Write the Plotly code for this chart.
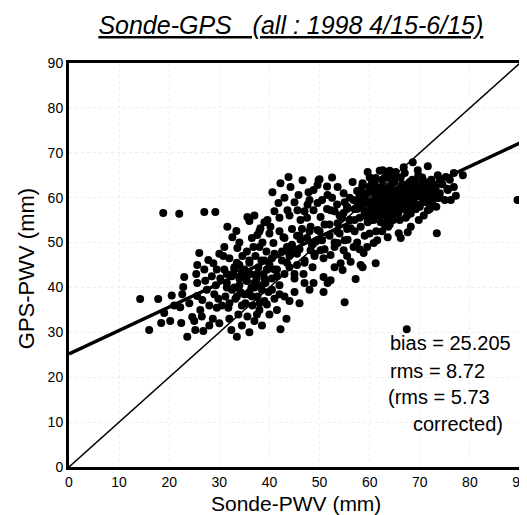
import plotly.graph_objects as go

# Sonde-PWV (x) vs GPS-PWV (y), mm
sonde = [
    14.2, 17.8, 16.0, 18.4, 19.0, 20.2, 21.0, 20.5, 22.4, 22.2, 22.6, 22.8, 23.0, 18.8, 22.0,
    23.6, 25.2, 26.8, 24.6, 25.0, 26.2, 26.6, 25.6, 25.6, 25.4, 26.0, 25.6, 27.8, 27.0, 29.2,
    27.5, 28.0, 28.5, 28.7, 29.0, 29.5, 29.3, 24.0, 27.0, 28.0, 29.5, 30.0, 27.2, 28.8, 26.5,
    30.0, 29.8, 30.2,
    30.8, 31.6, 32.6, 33.4, 33.6, 35.6, 36.0, 31.0, 31.5, 31.2, 31.8, 32.0, 32.4, 32.8, 33.0,
    33.2, 33.5, 33.8, 34.0, 34.2, 34.5, 34.6, 35.0, 35.2, 35.4, 35.6, 35.8, 36.0, 36.2, 36.4,
    36.6, 36.8, 37.0, 37.2, 37.4, 37.6, 37.8, 38.0, 38.2, 38.4, 38.6, 38.8, 39.0, 39.2, 39.4,
    39.6, 39.8, 40.0, 40.0, 31.0, 32.0, 34.0, 36.5, 38.0, 39.0, 37.0, 35.0, 36.0, 33.0, 34.5,
    32.5, 31.5, 30.5, 37.5, 39.5, 38.5, 36.0, 33.5, 35.5, 38.0, 39.0, 37.0, 34.0,
    43.8, 42.2, 46.6, 40.6, 44.2, 45.8, 47.8, 49.6, 41.8, 43.6, 39.6, 45.6, 47.6, 48.8, 46.2,
    48.2, 42.8, 40.8, 44.2, 46.2, 48.2, 37.6, 38.2, 40.2, 42.0, 44.5, 43.0, 45.0, 41.0, 44.0,
    45.5, 42.0, 50.5, 51.5, 52.5, 50.0,
    57.0, 57.5, 58.0, 58.2, 58.5, 59.0, 59.3, 59.6, 60.0, 60.2, 60.5, 60.8, 61.0, 61.3, 61.5,
    61.8, 62.0, 62.2, 62.5, 62.7, 63.0, 63.2, 63.5, 63.7, 64.0, 64.2, 64.5, 64.7, 65.0, 65.2,
    65.5, 65.7, 66.0, 66.2, 66.5, 66.7, 67.0, 67.2, 67.5, 67.7, 68.0, 68.2, 68.5, 68.7, 69.0,
    69.2, 69.5, 69.7, 70.0, 70.2, 70.5, 70.8, 71.0, 71.3, 71.5, 72.0, 72.3, 72.6, 73.0, 73.3,
    73.6, 74.0, 74.5, 75.0, 75.5, 76.0, 76.8, 77.2, 78.6, 75.2, 73.6, 73.2, 71.6, 69.6, 68.6,
    71.6, 69.8, 68.2, 67.6, 66.2, 65.8, 63.6, 60.8, 58.8, 61.2, 58.2, 57.2, 58.6, 56.2, 73.4,
    67.4, 89.5, 76.2, 75.6, 76.8,
    58.5, 59.5, 60.5, 61.5, 62.5, 63.5, 64.5, 65.5, 66.5, 67.5, 68.5, 69.5, 62.0, 64.0, 66.0,
    63.0, 61.0, 65.0, 67.0, 64.0, 62.0, 60.0, 59.6, 62.6, 63.6, 65.2, 66.8, 61.2, 58.6, 56.6,
    53.6, 49.8, 57.5, 56.0, 55.5, 57.0, 56.0, 55.0, 54.5, 55.5, 54.0, 53.0, 52.5, 53.5, 51.6,
    54.8, 56.8, 49.6, 52.2, 54.8, 50.2, 53.6, 56.2, 49.6, 51.0, 52.0, 53.0, 50.5, 55.6, 53.6,
    56.8, 54.8, 52.2, 50.8, 50.2, 48.6, 48.8, 50.8, 52.2, 50.8, 54.6, 54.2, 55.0, 51.6, 53.0,
    55.5, 57.5, 59.0, 58.0, 60.0, 59.5, 61.5, 62.5, 60.2, 57.0, 48.8, 48.0, 47.0, 46.5, 47.5,
    48.5, 49.0, 47.0, 46.0, 45.5, 46.8, 48.0, 47.0, 45.0, 44.0, 44.5, 43.5, 42.5, 43.0, 42.0,
    41.5, 41.0, 40.5, 42.2, 43.4, 44.0, 45.0, 43.0, 41.0, 41.5, 40.5, 46.0,
    59.0, 60.5, 62.0, 63.5, 65.0, 66.5, 68.0, 69.0, 70.5, 71.5, 72.5, 74.0, 64.0, 66.0, 61.0,
    63.0, 67.5, 69.5, 71.0, 60.0, 58.0, 62.5, 65.5, 68.5,
    58.0, 59.0, 60.0, 61.0, 62.0, 63.0, 64.0, 65.0, 66.0, 67.0, 68.0, 69.0, 70.0, 71.0, 72.0,
    59.5, 60.5, 61.5, 62.5, 63.5, 64.5, 65.5, 66.5, 67.5, 68.5, 69.5, 70.5, 57.5, 58.5, 60.2,
    61.8, 63.2, 64.8, 66.2, 67.8, 69.2, 62.0, 64.0, 66.0, 60.0, 65.0, 67.0, 70.0, 72.0, 74.0,
    31.5, 32.5, 33.5, 34.5, 35.5, 36.5, 37.5, 38.5, 39.5, 40.5, 41.5, 42.5, 43.5, 44.5, 45.5,
    32.0, 33.0, 34.0, 35.0, 36.0, 37.0, 38.0, 39.0, 40.0, 41.0, 42.0, 43.0, 44.0, 45.0, 46.0,
    47.0, 48.0, 49.0, 50.0, 51.0, 52.0, 53.0, 54.0, 55.0, 56.0, 47.5, 49.5, 51.5, 53.5, 55.5,
    60.5, 61.5, 62.5, 63.5, 64.5, 65.5, 66.5, 67.5, 61.0, 63.0, 65.0, 67.0, 69.0, 62.0, 64.0,
    59.0, 60.0, 61.0, 62.0, 63.0, 64.0, 65.0, 66.0, 67.0, 68.0, 69.0, 70.0, 71.0, 72.0, 73.0,
    60.5, 61.5, 62.5, 63.5, 64.5, 65.5, 66.5, 67.5, 68.5, 69.5, 70.5, 71.5, 64.0, 66.0, 68.0,
]
gps = [
    37.4, 37.4, 30.5, 32.1, 34.3, 32.5, 36.0, 38.2, 32.1, 35.6, 38.5, 40.1, 42.3, 56.6, 56.4,
    29.0, 30.5, 30.3, 33.4, 32.5, 35.0, 37.2, 38.1, 41.0, 43.0, 47.7, 45.0, 46.1, 56.8, 56.8,
    39.5, 36.0, 42.5, 33.0, 38.5, 44.0, 40.5, 36.5, 44.0, 31.5, 35.5, 47.5, 41.5, 45.4, 33.5,
    32.0, 37.5, 42.0,
    47.0, 53.5, 51.2, 52.6, 48.8, 55.7, 54.8, 44.0, 41.0, 38.0, 35.5, 33.0, 30.5, 43.0, 40.0,
    37.5, 45.5, 34.0, 42.0, 39.0, 31.5, 47.0, 44.0, 36.5, 41.5, 33.5, 38.5, 45.5, 43.0, 40.0,
    36.0, 49.0, 32.5, 47.0, 42.0, 38.0, 44.5, 35.0, 40.5, 46.0, 50.0, 43.0, 37.0, 41.0, 48.0,
    44.0, 39.0, 52.0, 34.0, 49.0, 46.5, 50.0, 51.0, 52.5, 54.5, 56.0, 42.5, 39.0, 44.0, 36.0,
    39.5, 43.0, 36.0, 34.0, 36.2, 31.5, 30.0, 29.0, 48.0, 49.0, 46.0, 40.0, 45.0,
    64.6, 63.2, 63.9, 61.2, 62.4, 60.6, 61.2, 62.8, 58.8, 57.2, 55.0, 57.2, 58.4, 57.2, 55.0,
    53.5, 51.2, 49.9, 49.0, 50.6, 48.3, 51.7, 53.2, 53.5, 55.5, 53.0, 60.0, 59.0, 57.0, 56.0,
    51.5, 52.5, 59.5, 62.5, 64.5, 64.1,
    55.0, 58.0, 60.5, 53.5, 62.5, 56.5, 59.0, 54.5, 61.5, 57.5, 63.5, 55.0, 59.5, 52.5, 62.0,
    57.0, 60.5, 54.5, 64.0, 58.5, 61.5, 56.0, 59.5, 53.5, 62.5, 57.5, 60.0, 55.0, 63.5, 58.5,
    61.0, 56.5, 59.5, 64.5, 57.5, 62.0, 60.5, 55.5, 63.0, 58.5, 61.0, 56.5, 64.0, 59.5, 62.0,
    57.5, 60.5, 65.0, 58.5, 62.5, 60.0, 56.0, 63.5, 59.0, 61.5, 57.5, 64.0, 60.5, 62.5, 58.0,
    65.0, 61.0, 63.0, 59.5, 62.0, 64.0, 62.4, 60.4, 65.0, 64.6, 59.9, 62.4, 67.0, 66.1, 67.9,
    57.2, 55.0, 53.5, 52.3, 51.0, 52.1, 51.2, 49.9, 47.7, 45.4, 45.0, 41.9, 44.5, 45.7, 52.1,
    30.7, 59.5, 59.5, 61.7, 65.5,
    58.0, 61.0, 59.0, 60.0, 62.5, 58.0, 63.0, 59.5, 61.0, 57.0, 60.5, 58.0, 56.0, 54.0, 55.0,
    64.5, 63.5, 65.0, 65.5, 66.0, 66.0, 64.5, 65.7, 66.1, 65.5, 65.7, 66.8, 64.4, 63.2, 63.5,
    62.4, 63.9, 61.5, 60.0, 57.5, 52.5, 55.0, 59.0, 55.5, 53.0, 52.0, 57.0, 60.0, 58.5, 60.6,
    61.0, 59.5, 58.8, 57.2, 56.6, 55.7, 54.3, 53.2, 52.8, 54.0, 51.5, 50.0, 50.5, 50.6, 49.9,
    49.0, 48.3, 47.2, 46.5, 48.3, 44.5, 41.0, 42.3, 41.6, 39.0, 43.9, 45.4, 36.7, 41.0, 44.5,
    47.0, 50.0, 51.5, 48.5, 52.0, 49.0, 50.5, 52.5, 55.0, 57.5, 61.7, 59.5, 57.0, 53.0, 51.0,
    49.5, 47.0, 46.0, 48.5, 45.0, 43.0, 39.5, 41.0, 42.0, 44.5, 47.5, 49.0, 46.0, 43.0, 40.5,
    44.0, 47.5, 42.0, 30.7, 33.0, 37.0, 39.0, 38.0, 37.5, 35.0, 39.5, 36.5,
    57.0, 58.0, 59.5, 60.5, 58.0, 63.0, 62.5, 63.5, 61.5, 60.0, 59.0, 60.0, 58.5, 60.5, 61.0,
    62.0, 59.0, 61.0, 60.5, 56.5, 55.5, 57.0, 61.5, 58.0,
    59.0, 57.0, 62.0, 56.0, 60.0, 57.5, 61.5, 58.0, 62.0, 59.5, 57.0, 60.5, 58.0, 62.5, 60.0,
    55.5, 63.0, 57.0, 59.5, 55.0, 61.0, 57.0, 60.0, 56.0, 59.0, 61.5, 64.0, 57.5, 61.0, 59.0,
    56.5, 57.5, 61.0, 58.5, 62.5, 57.5, 61.5, 64.5, 62.0, 58.5, 60.5, 58.5, 60.5, 62.0, 64.0,
    40.0, 42.5, 38.0, 43.5, 41.5, 38.0, 43.0, 39.5, 44.0, 46.5, 42.5, 48.0, 45.5, 49.5, 47.5,
    36.5, 44.5, 40.5, 38.5, 46.0, 41.0, 36.5, 42.0, 45.0, 44.0, 38.5, 51.0, 47.0, 43.0, 51.5,
    45.5, 52.5, 47.5, 52.5, 48.5, 54.0, 49.0, 56.0, 50.5, 55.0, 55.5, 50.5, 57.5, 52.5, 58.0,
    56.0, 59.0, 57.5, 60.5, 56.5, 59.5, 58.0, 61.5, 63.0, 54.0, 61.5, 59.5, 63.5, 58.0, 56.0,
    60.0, 62.5, 58.5, 61.0, 59.0, 62.0, 60.0, 58.5, 61.5, 63.5, 60.0, 62.5, 61.0, 63.0, 61.5,
    57.5, 59.0, 56.5, 60.0, 56.0, 58.0, 60.0, 62.0, 60.0, 62.0, 64.5, 63.0, 59.5, 61.5, 59.0,
]

# regression line stats
bias = 25.205
slope = 0.522
line_x = [0, 90]
stats_text = ["bias = 25.205", "rms = 8.72", "(rms = 5.73", "corrected)"]

fnt = "Liberation Sans, Arial, sans-serif"

fig = go.Figure()
fig.add_trace(go.Scatter(x=line_x, y=line_x, mode="lines",
                         line=dict(color="black", width=1.5), hoverinfo="skip"))
fig.add_trace(go.Scatter(x=line_x, y=[bias + slope * v for v in line_x], mode="lines",
                         line=dict(color="black", width=3.5), hoverinfo="skip"))
fig.add_trace(go.Scatter(x=sonde, y=gps, mode="markers",
                         marker=dict(color="black", size=8, line=dict(width=0))))

ann = [
    dict(x=63.6, y=27.6, text=stats_text[0]),
    dict(x=63.6, y=21.3, text=stats_text[1]),
    dict(x=63.2, y=15.5, text=stats_text[2]),
    dict(x=68.2, y=9.5, text=stats_text[3]),
]
for a in ann:
    fig.add_annotation(xref="x", yref="y", xanchor="left", yanchor="middle",
                       showarrow=False, font=dict(size=20, color="black", family=fnt), **a)

# axis titles
fig.add_annotation(xref="paper", yref="paper", x=0.503, y=-0.09, yanchor="middle",
                   text="Sonde-PWV (mm)", showarrow=False,
                   font=dict(size=21, color="black", family=fnt))
fig.add_annotation(xref="paper", yref="paper", x=-0.095, y=0.49, xanchor="center",
                   textangle=-90, text="GPS-PWV (mm)", showarrow=False,
                   font=dict(size=22, color="black", family=fnt))

axis_common = dict(range=[0, 90], dtick=10, showline=True, linecolor="black", linewidth=3,
                   mirror=True, showgrid=True, gridcolor="#eeeeee", griddash="dot",
                   zeroline=False, ticks="", automargin=False, ticklabeloverflow="allow",
                   tickfont=dict(size=14, color="black", family=fnt))

# the page body adds an 8px offset, so the figure is sized to fit the window
fig.update_layout(
    width=519, height=507,
    margin=dict(l=61, r=7, t=55, b=48),
    paper_bgcolor="white", plot_bgcolor="white",
    showlegend=False,
    title=dict(text="<i><u>Sonde-GPS&nbsp;&nbsp;&nbsp;(all : 1998 4/15-6/15)</u></i>",
               x=0.545, xanchor="center", y=0.966, yanchor="middle",
               font=dict(size=25, color="black", family=fnt)),
    xaxis=axis_common,
    yaxis=axis_common,
)

fig.write_html("out.html")
